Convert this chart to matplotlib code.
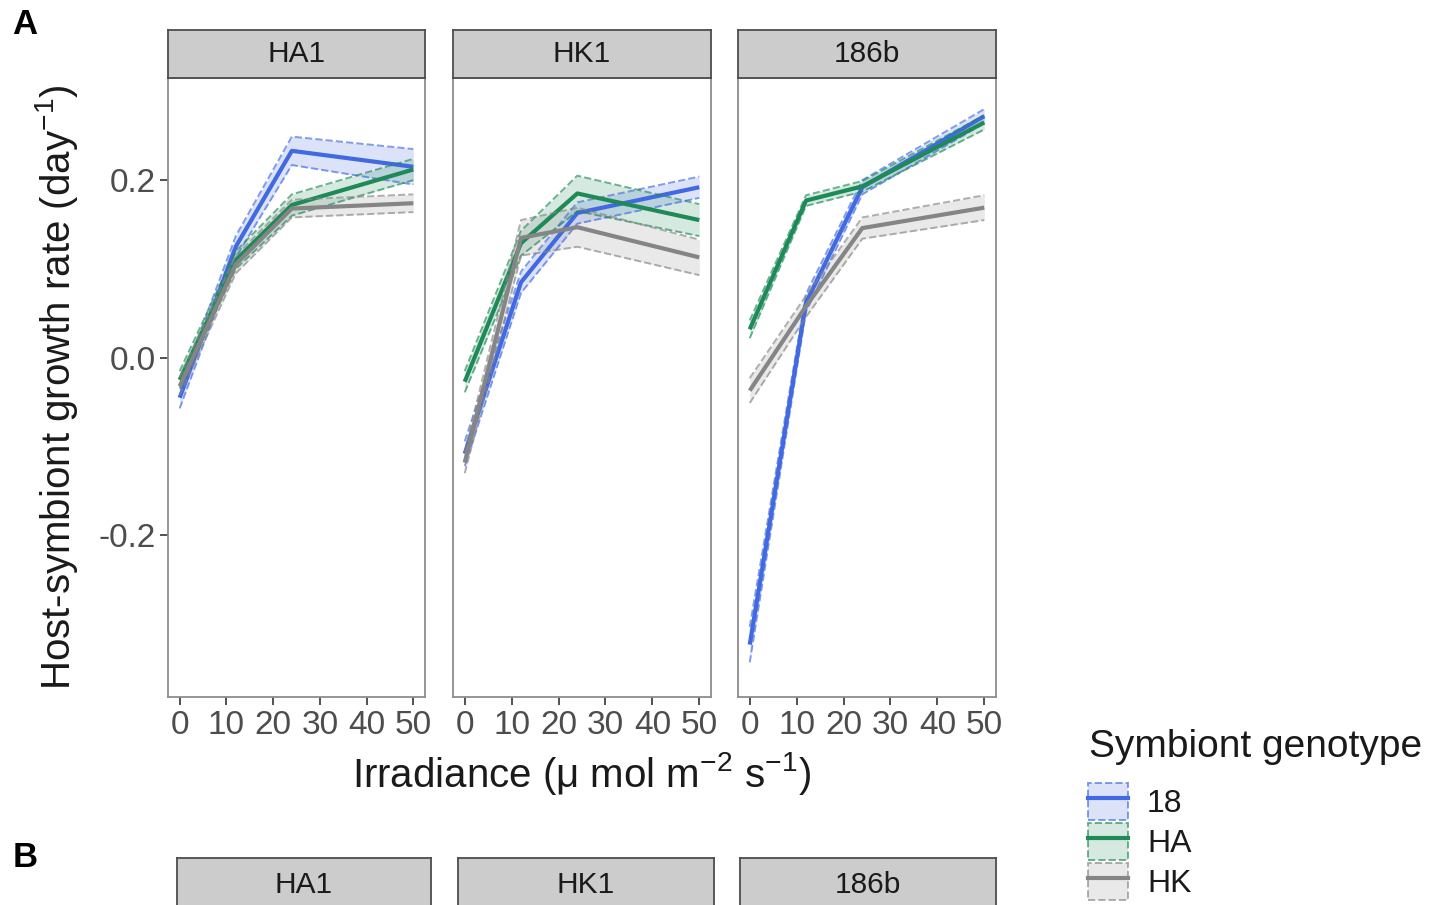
import matplotlib
matplotlib.use("Agg")
import matplotlib.pyplot as plt
from matplotlib.patches import Patch
from matplotlib.lines import Line2D
from matplotlib.colors import to_rgba

plt.rcParams['font.family'] = ['Liberation Sans', 'DejaVu Sans']
plt.rcParams['mathtext.default'] = 'regular'

# host strains (facets) and symbiont genotypes (colours)
hosts = ['HA1', 'HK1', '186b']
genotypes = ['18', 'HA', 'HK']
irradiance = [0, 12, 24, 50]
geno_colors = ['#4169e1', '#1e8a57', '#858585']

# fitted growth rate (day^-1), one row per genotype: 18, HA, HK
rate_ha1 = [[-0.045, 0.125, 0.233, 0.215],
            [-0.025, 0.110, 0.172, 0.212],
            [-0.032, 0.105, 0.168, 0.174]]
rate_hk1 = [[-0.108, 0.085, 0.163, 0.192],
            [-0.027, 0.129, 0.185, 0.155],
            [-0.118, 0.135, 0.147, 0.113]]
rate_186b = [[-0.323, 0.062, 0.192, 0.272],
             [0.032, 0.177, 0.193, 0.265],
             [-0.037, 0.058, 0.146, 0.169]]

# standard errors for the ribbons
se_ha1 = [[0.012, 0.012, 0.016, 0.020],
          [0.010, 0.010, 0.012, 0.012],
          [0.010, 0.010, 0.010, 0.010]]
se_hk1 = [[0.014, 0.012, 0.012, 0.012],
          [0.012, 0.014, 0.020, 0.018],
          [0.012, 0.020, 0.022, 0.020]]
se_186b = [[0.020, 0.010, 0.008, 0.008],
           [0.010, 0.006, 0.006, 0.008],
           [0.014, 0.012, 0.012, 0.014]]

rates = [rate_ha1, rate_hk1, rate_186b]
ses = [se_ha1, se_hk1, se_186b]

W, H = 1443, 905
fig = plt.figure(figsize=(W / 100, H / 100), dpi=100)


def box(x0, y0, x1, y1):
    # pixel box (top-left origin) -> figure fraction rect
    return [x0 / W, 1 - y1 / H, (x1 - x0) / W, (y1 - y0) / H]


def strip(x0, y0, x1, y1, label):
    sax = fig.add_axes(box(x0, y0, x1, y1))
    sax.set_facecolor('#cccccc')
    sax.set_xticks([])
    sax.set_yticks([])
    for s in sax.spines.values():
        s.set_color('#4d4d4d')
        s.set_linewidth(1.3)
    sax.text(0.5, 0.5, label, transform=sax.transAxes, ha='center',
             va='center', fontsize=21.5, color='#1a1a1a')
    return sax


panel_x = [(168, 425), (453, 711), (738, 996)]
for i, host in enumerate(hosts):
    x0, x1 = panel_x[i]
    ax = fig.add_axes(box(x0, 78, x1, 697))
    for g in range(len(genotypes)):
        c = geno_colors[g]
        y = rates[i][g]
        lo = [a - b for a, b in zip(y, ses[i][g])]
        hi = [a + b for a, b in zip(y, ses[i][g])]
        ax.fill_between(irradiance, lo, hi, color=c, alpha=0.18, lw=0)
        ax.plot(irradiance, lo, ls='--', color=c, alpha=0.65, lw=1.4)
        ax.plot(irradiance, hi, ls='--', color=c, alpha=0.65, lw=1.4)
        ax.plot(irradiance, y, color=c, lw=3.0, solid_capstyle='butt')
    ax.set_xlim(-2.5, 52.5)
    ax.set_ylim(-0.382, 0.315)
    ax.set_xticks([0, 10, 20, 30, 40, 50])
    ax.set_xticklabels(['0', '10', '20', '30', '40', '50'])
    if i == 0:
        ax.set_yticks([-0.2, 0.0, 0.2])
        ax.set_yticklabels(['-0.2', '0.0', '0.2'])
    else:
        ax.set_yticks([])
    ax.tick_params(length=6, width=1.2, color='#333333', labelcolor='#4d4d4d',
                   labelsize=24, pad=3)
    for s in ax.spines.values():
        s.set_color('#8c8c8c')
        s.set_linewidth(1.3)
    strip(x0, 30, x1, 78, host)

# panel B strips (cut off at the bottom edge)
for (x0, x1), host in zip([(177, 431), (458, 714), (740, 996)], hosts):
    strip(x0, 858, x1, 912, host)

fig.text(57 / W, 1 - 387 / H, 'Host-symbiont growth rate (day$^{-1}$)',
         rotation=90, ha='center', va='center', fontsize=29, color='#1a1a1a')
fig.text(581 / W, 1 - 773 / H, 'Irradiance (μ mol m$^{-2}$ s$^{-1}$)',
         ha='center', va='center', fontsize=29, color='#1a1a1a')

fig.text(25 / W, 1 - 25 / H, 'A', ha='center', va='center', fontsize=25,
         fontweight='bold')
fig.text(25 / W, 1 - 857 / H, 'B', ha='center', va='center', fontsize=25,
         fontweight='bold')

# legend: ribbon + line per genotype
fig.text(1089 / W, 1 - 747 / H, 'Symbiont genotype', ha='left',
         va='center', fontsize=28, color='#1a1a1a')
handles = []
for c in geno_colors:
    band = Patch(facecolor=to_rgba(c, 0.18), edgecolor=to_rgba(c, 0.65),
                 linestyle='--', linewidth=1.4)
    line = Line2D([], [], color=c, lw=3.0)
    handles.append((band, line))
leg = fig.legend(handles, genotypes,
                 loc='upper left', bbox_to_anchor=(1088 / W, 1 - 783 / H),
                 frameon=False, fontsize=23,
                 handlelength=1.25, handleheight=1.4, labelspacing=0.1,
                 handletextpad=0.6, borderaxespad=0, borderpad=0)
for t in leg.get_texts():
    t.set_color('#1a1a1a')

fig.savefig('out.png', dpi=100)
